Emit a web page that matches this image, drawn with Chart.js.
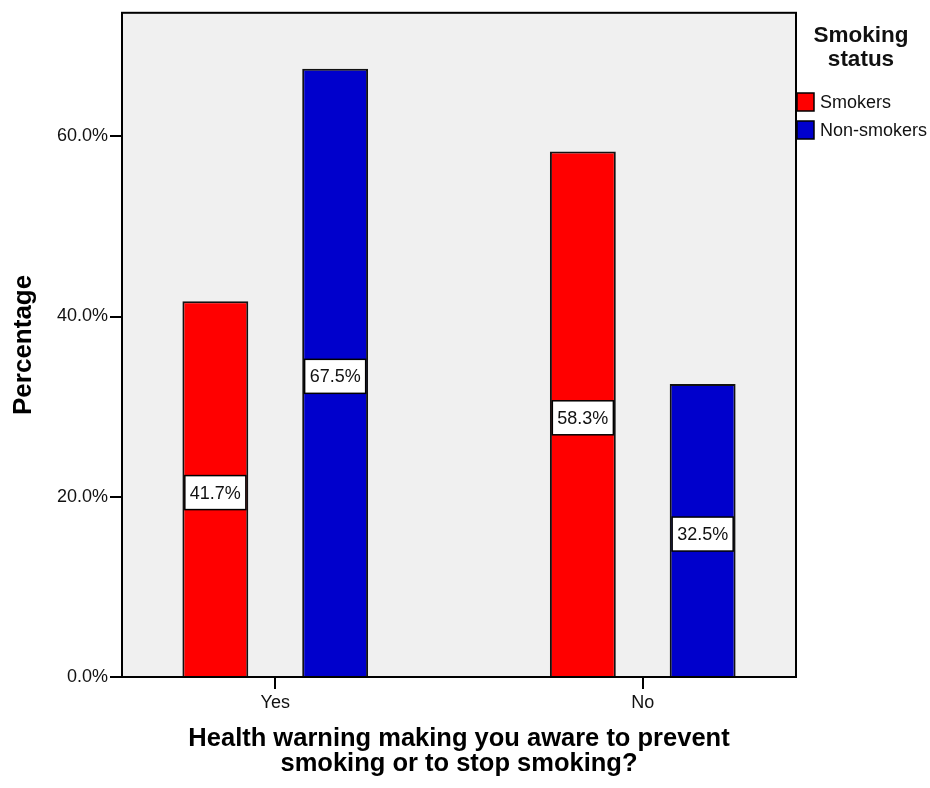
<!DOCTYPE html>
<html lang="en">
<head>
<meta charset="UTF-8">
<title>Health warning awareness by smoking status</title>
<script src="https://cdn.jsdelivr.net/npm/chart.js"></script>
<style>
    html, body { margin: 0; padding: 0; background: #ffffff; }
    canvas { display: block; }
</style>
</head>
<body>
<canvas id="chart" width="930" height="788"></canvas>
<script>
// answers on the x axis and percentage per smoking group
const categories = ['Yes', 'No'];
const groups = ['Smokers', 'Non-smokers'];
const smokers = [41.7, 58.3];
const nonSmokers = [67.5, 32.5];
const yTicks = [0, 20, 40, 60];

const FONT = "'Liberation Sans', Arial, sans-serif";
const colors = ['#ff0000', '#0000cc'];

function toPoints(values) {
    return values.map((v, i) => ({ x: i + 1, y: v }));
}

// grey plot background and black frame
const plotFrame = {
    id: 'plotFrame',
    beforeDatasetsDraw(chart) {
        const { ctx, chartArea: a } = chart;
        ctx.save();
        ctx.fillStyle = '#f0f0f0';
        ctx.fillRect(a.left, a.top, a.right - a.left, a.bottom - a.top);
        ctx.restore();
    },
    afterDraw(chart) {
        const { ctx, chartArea: a } = chart;
        ctx.save();
        ctx.strokeStyle = '#000';
        ctx.lineWidth = 2;
        ctx.strokeRect(a.left, a.top, a.right - a.left, a.bottom - a.top);
        ctx.restore();
    }
};

// boxed value label in the middle of every bar
const valueBoxes = {
    id: 'valueBoxes',
    afterDatasetsDraw(chart) {
        const { ctx } = chart;
        ctx.save();
        ctx.font = '18px ' + FONT;
        ctx.textAlign = 'center';
        ctx.textBaseline = 'middle';
        chart.data.datasets.forEach((ds, di) => {
            chart.getDatasetMeta(di).data.forEach((bar, i) => {
                const text = ds.data[i].y.toFixed(1) + '%';
                const cx = bar.x;
                const cy = (bar.y + bar.base) / 2 + 4;
                const w = ctx.measureText(text).width + 10;
                const h = 34;
                ctx.fillStyle = '#ffffff';
                ctx.fillRect(cx - w / 2, cy - h / 2, w, h);
                ctx.strokeStyle = '#000';
                ctx.lineWidth = 1.5;
                ctx.strokeRect(cx - w / 2, cy - h / 2, w, h);
                ctx.fillStyle = '#111';
                ctx.fillText(text, cx, cy + 1);
            });
        });
        ctx.restore();
    }
};

// legend on the right, drawn by hand
const sideLegend = {
    id: 'sideLegend',
    afterDraw(chart) {
        const { ctx } = chart;
        ctx.save();
        ctx.fillStyle = '#111';
        ctx.font = 'bold 22.5px ' + FONT;
        ctx.textAlign = 'center';
        ctx.textBaseline = 'middle';
        ctx.fillText('Smoking', 861, 36);
        ctx.fillText('status', 861, 60);
        ctx.font = '18px ' + FONT;
        ctx.textAlign = 'left';
        chart.data.datasets.forEach((ds, i) => {
            const y = 93 + i * 28;
            ctx.fillStyle = ds.backgroundColor;
            ctx.fillRect(797, y, 17, 18);
            ctx.strokeStyle = '#000';
            ctx.lineWidth = 1.5;
            ctx.strokeRect(797, y, 17, 18);
            ctx.fillStyle = '#111';
            ctx.fillText(ds.label, 820, y + 10);
        });
        ctx.restore();
    }
};

new Chart(document.getElementById('chart'), {
    type: 'bar',
    data: {
        datasets: [
            {
                label: groups[0],
                data: toPoints(smokers),
                backgroundColor: colors[0],
                borderColor: '#111',
                borderWidth: 2
            },
            {
                label: groups[1],
                data: toPoints(nonSmokers),
                backgroundColor: colors[1],
                borderColor: '#111',
                borderWidth: 2
            }
        ]
    },
    options: {
        responsive: false,
        animation: false,
        categoryPercentage: 0.652,
        barPercentage: 0.55,
        layout: { padding: { top: 11, right: 134, left: 0, bottom: 0 } },
        plugins: {
            legend: { display: false },
            tooltip: { enabled: false }
        },
        scales: {
            x: {
                type: 'linear',
                offset: false,
                min: 0.583,
                max: 2.417,
                afterBuildTicks(scale) {
                    scale.ticks = categories.map((c, i) => ({ value: i + 1 }));
                },
                afterFit(scale) { scale.height = 111; },
                ticks: {
                    callback: v => categories[v - 1],
                    color: '#111',
                    font: { family: FONT, size: 18 },
                    padding: 3,
                    maxRotation: 0
                },
                grid: {
                    offset: false,
                    drawOnChartArea: false,
                    tickLength: 12,
                    color: '#000',
                    lineWidth: 2
                },
                border: { display: false },
                title: {
                    display: true,
                    text: ['Health warning making you aware to prevent', 'smoking or to stop smoking?'],
                    color: '#000',
                    font: { family: FONT, size: 25.5, weight: 'bold', lineHeight: '25px' },
                    padding: { top: 0, bottom: 11.5 }
                }
            },
            y: {
                min: 0,
                max: 73.7,
                afterBuildTicks(scale) {
                    scale.ticks = yTicks.map(v => ({ value: v }));
                },
                afterFit(scale) { scale.width = 122; },
                ticks: {
                    callback: v => v.toFixed(1) + '%',
                    color: '#111',
                    font: { family: FONT, size: 18 },
                    padding: 2
                },
                grid: {
                    drawOnChartArea: false,
                    tickLength: 12,
                    color: '#000',
                    lineWidth: 2
                },
                border: { display: false },
                title: {
                    display: true,
                    text: 'Percentage',
                    color: '#000',
                    font: { family: FONT, size: 26, weight: 'bold', lineHeight: '25px' },
                    padding: { top: 11, bottom: 0 }
                }
            }
        }
    },
    plugins: [plotFrame, valueBoxes, sideLegend]
});
</script>
</body>
</html>
